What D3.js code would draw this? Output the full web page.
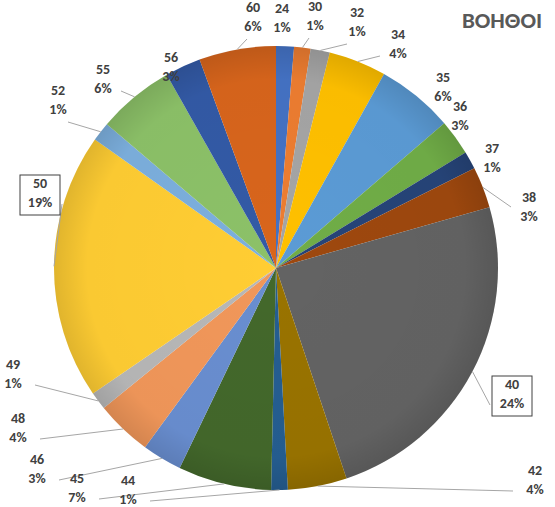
<!DOCTYPE html><html><head><meta charset="utf-8"><script src="https://cdn.jsdelivr.net/npm/d3@7"></script>
<style>body{margin:0;background:#fff}text{font-family:Calibri,Carlito,"Open Sans",sans-serif}</style></head><body>
<svg id="c" width="555" height="507"></svg>
<script>
const categories=["24","30","32","34","35","36","37","38","40","42","44","45","46","48","49","50","52","55","56","60"];
const values=[1.3,1.2,1.4,4.2,5.6,2.6,1.3,3,24.3,4.3,1.2,6.8,2.9,4.1,1.3,19.4,1.4,5.6,2.6,5.6];
const percentLabels=["1%","1%","1%","4%","6%","3%","1%","3%","24%","4%","1%","7%","3%","4%","1%","19%","1%","6%","3%","6%"];
const colors=["#4472C4","#ED7D31","#A5A5A5","#FFC000","#5B9BD5","#70AD47","#264478","#9E480E","#636363","#997300","#255E91","#43682B","#698ED0","#F1975A","#B7B7B7","#FFCD33","#7CAFDD","#8CC168","#335AA6","#D8651C"];
const labelPos=[[282,8],[315,6],[357,12],[398,34],[443,77],[460,106],[492,148],[529,197],[512,384],[535,470],[128,480],[77,478],[37,459],[18,418],[13,364],[40,183],[58,90],[103,69],[171,57],[253,7]];
const svg=d3.select("#c");
const cx=276,cy=268,R=222;
const g=svg.append("g").attr("transform",`translate(${cx},${cy})`);
const pie=d3.pie().sort(null).value(d=>d)(values);
const arc=d3.arc().innerRadius(0).outerRadius(R);
const defs=svg.append("defs");
const rg=defs.append("radialGradient").attr("id","sh");
rg.append("stop").attr("offset","0%").attr("stop-color","#000").attr("stop-opacity",0);
rg.append("stop").attr("offset","85%").attr("stop-color","#000").attr("stop-opacity",0.02);
rg.append("stop").attr("offset","100%").attr("stop-color","#000").attr("stop-opacity",0.12);
g.selectAll("path.s").data(pie).join("path").attr("class","s").attr("d",arc).attr("fill",(d,i)=>colors[i]);
g.append("circle").attr("r",R).attr("fill","url(#sh)");
pie.forEach((d,i)=>{
  const a=(d.startAngle+d.endAngle)/2;
  const px=cx+Math.sin(a)*R, py=cy-Math.cos(a)*R;
  const [lx,ly]=labelPos[i];
  const dist=Math.hypot(px-lx,py-ly-10);
  if(dist>30){
    let ex,ey;
    if(Math.abs(px-lx)<30){ex=lx+(px>lx?6:-6);ey=ly+32;}
    else if(py>ly+30){ex=lx+(px>lx?10:-10);ey=ly+32;}
    else {ex=lx+(px>lx?18:-18);ey=ly+(py>ly+10?22:10);}
    if(i>=8&&i<=15){ex=lx+(px>lx?22:-22);ey=ly+21;}
    svg.append("polyline").attr("points",`${px},${py} ${ex},${ey}`).attr("fill","none").attr("stroke","#a6a6a6").attr("stroke-width",1);
  }
});
labelPos.forEach(([x,y],i)=>{
  const t=svg.append("text").attr("x",x).attr("y",y+5).attr("text-anchor","middle").attr("font-size",14).attr("font-weight","bold").attr("fill","#404040");
  t.append("tspan").attr("x",x).text(categories[i]);
  t.append("tspan").attr("x",x).attr("dy",19).text(percentLabels[i]);
  if(categories[i]==="40"||categories[i]==="50"){
    svg.append("rect").attr("x",x-20).attr("y",y-8).attr("width",40).attr("height",40).attr("fill","none").attr("stroke","#404040");
  }
});
svg.append("text").attr("x",502).attr("y",28).attr("text-anchor","middle").attr("font-size",23).attr("font-weight","bold").attr("fill","#595959").text("ΒΟΗΘΟΙ");
</script></body></html>
